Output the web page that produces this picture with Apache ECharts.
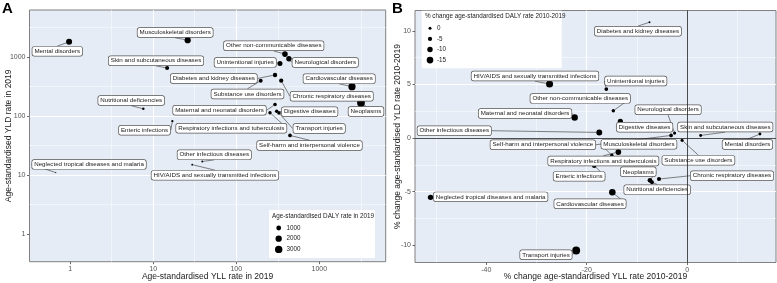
<!DOCTYPE html>
<html>
<head>
<meta charset="utf-8">
<script src="https://cdn.jsdelivr.net/npm/echarts@6/dist/echarts.min.js"></script>
<style>
html, body { margin: 0; padding: 0; background: #fff; }
#main { width: 777px; height: 283px; }
</style>
</head>
<body>
<div id="main"></div>
<script>
// causes, same order in both panels
var causes = [
    'Mental disorders', 'Musculoskeletal disorders', 'Skin and subcutaneous diseases',
    'Diabetes and kidney diseases', 'Nutritional deficiencies', 'Maternal and neonatal disorders',
    'Enteric infections', 'Respiratory infections and tuberculosis', 'Other non-communicable diseases',
    'Unintentional injuries', 'Neurological disorders', 'Cardiovascular diseases',
    'Chronic respiratory diseases', 'Substance use disorders', 'Neoplasms',
    'Digestive diseases', 'Transport injuries', 'Self-harm and interpersonal violence',
    'Other infectious diseases', 'HIV/AIDS and sexually transmitted infections',
    'Neglected tropical diseases and malaria'
];

// panel A: rates 2019
var yllRate  = [0.97, 26, 14.7, 293, 7.6, 293, 17, 255, 386, 336, 431, 2477, 348, 197, 3180, 307, 327, 444, 39, 29.5, 0.67];
var yldRate  = [1820, 1945, 655, 499, 133, 157, 82, 114, 1128, 783, 940, 316, 399, 399, 168, 121, 113, 47, 17, 15, 11];
var dalyRate = [1821, 1971, 670, 792, 141, 450, 99, 369, 1514, 1119, 1371, 2793, 747, 596, 3348, 428, 440, 491, 56, 45, 12];

// panel B: % change 2010-2019
var yllChange  = [14.5, -15.0, 2.7, -7.5, -7.0, -22.4, -18.5, -13.7, -14.7, -16.1, -2.5, -14.9, -5.6, -1.0, -7.4, -13.3, -22.1, -3.2, -17.5, -27.4, -51.1];
var yldChange  = [0.37, -1.6, 0.24, 10.8, -4.12, 1.92, -2.58, -1.31, 2.55, 4.57, 0.46, -5.07, -3.83, -0.22, -3.95, 1.55, -10.5, 0.24, 0.52, 5.04, -5.54];
var dalyChange = [0.4, -1.5, 0.3, 4.0, -4.1, -13.9, -6.0, -11, -1.9, -3, -0.5, -14.4, -4.7, -0.5, -7.2, -9.1, -20, -3, -12, -16.5, -10];

var dalyRateKeys = [1000, 2000, 3000];
var dalyChangeKeys = [0, -5, -10, -15];
var ticksA = [0, 1, 2, 3];          // log10 of 1, 10, 100, 1000
var ticksBx = [-40, -20, 0];
var ticksBy = [-10, -5, 0, 5, 10];

// label offsets in px (repel-like placement)
var shiftA = [
    [-11.8, 9.5], [-12.5, -7.6], [-11.1, -7.3], [-61.2, 3.5], [-12.1, -8.3], [-55.5, 5.7],
    [-27.8, 9], [-38.7, 15.5], [-11.2, -8.3], [-34.7, -1], [36.3, 3.7], [-12.8, -8],
    [50.5, 15.5], [-13.2, 13.3], [5, 8.7], [33, 0.5], [40.2, 15.5], [19.5, 10],
    [12, -6.8], [22.7, 10.7], [33.3, -8.2]
];
var shiftB = [
    [-12.5, 10.4], [27.1, -10.8], [24.6, -8.5], [-11.5, 9], [5.2, 7.5], [-49.6, -4],
    [-15.1, 10.7], [-15, 8.9], [-33.1, -12.3], [29.5, -8.1], [-6.5, -23.3], [-22.3, 11.5],
    [73, -3.3], [16.3, 20], [-11.7, -8.5], [24.3, 5.8], [-30.2, 4.3], [-128.2, 9.3],
    [-145, -1.7], [-14.6, -8], [60.1, -0.5]
];

function sizeA(v) { return 1.2 + 6.6 * Math.sqrt(Math.max(v - 12, 0) / 3336); }
function sizeB(v) { return Math.max(1.6, 3 + 0.245 * -v); }

var FONT = 'Liberation Sans, Arial, sans-serif';
var panelBg = '#E6ECF5';

var labelStyle = {
    show: true,
    position: 'inside',
    color: '#1a1a1a',
    fontSize: 6.2,
    lineHeight: 7,
    backgroundColor: '#fff',
    borderColor: '#555',
    borderWidth: 0.7,
    borderRadius: 2,
    padding: [1.5, 2, 0.5, 2],
    formatter: function (p) { return p.data[3]; }
};
var leader = { show: true, lineStyle: { color: '#333', width: 0.6 } };

function axisBase(extra) {
    var a = {
        type: 'value',
        axisLine: { show: false, onZero: false },
        axisTick: { show: true, length: 2.5, lineStyle: { color: '#444', width: 0.8 } },
        axisLabel: { color: '#555', fontSize: 7, margin: 4 },
        splitLine: { show: true, showMinLine: false, showMaxLine: false, lineStyle: { color: '#fff', width: 1 } },
        minorTick: { show: false, splitNumber: 2 },
        minorSplitLine: { show: true, lineStyle: { color: '#fff', width: 0.5 } },
        nameLocation: 'middle',
        nameMoveOverlap: false,
        nameTextStyle: { fontSize: 8.5, color: '#1a1a1a' }
    };
    for (var k in extra) {
        if (typeof extra[k] === 'object' && a[k] && !Array.isArray(extra[k])) {
            for (var j in extra[k]) a[k][j] = extra[k][j];
        } else {
            a[k] = extra[k];
        }
    }
    return a;
}

var logFmt = function (v) { return String(Math.round(Math.pow(10, v))); };

var dataA = causes.map(function (c, i) {
    return [Math.log10(yllRate[i]), Math.log10(yldRate[i]), dalyRate[i], c];
});
var dataB = causes.map(function (c, i) {
    return [yllChange[i], yldChange[i], dalyChange[i], c];
});

// legends (size keys) drawn as graphic
var graphics = [
    { type: 'text', x: 2, y: 1, style: { text: 'A', font: 'bold 15px ' + FONT, fill: '#000' } },
    { type: 'text', x: 392, y: 1, style: { text: 'B', font: 'bold 15px ' + FONT, fill: '#000' } },
    { type: 'rect', z: 50, shape: { x: 269, y: 210, width: 106, height: 48 }, style: { fill: '#fff' } },
    { type: 'text', z: 51, x: 272, y: 216.5, style: { text: 'Age-standardised DALY rate in 2019', fontSize: 6.3, fontFamily: FONT, fill: '#1a1a1a', verticalAlign: 'middle' } },
    { type: 'rect', z: 50, shape: { x: 421.7, y: 10.7, width: 140, height: 57.5 }, style: { fill: '#fff' } },
    { type: 'text', z: 51, x: 425, y: 16, style: { text: '% change age-standardised DALY rate 2010-2019', fontSize: 6.3, fontFamily: FONT, fill: '#1a1a1a', verticalAlign: 'middle' } }
];
dalyRateKeys.forEach(function (k, i) {
    var cy = 228 + i * 10.7;
    graphics.push({ type: 'circle', z: 51, shape: { cx: 278.7, cy: cy, r: sizeA(k) / 2 }, style: { fill: '#000' } });
    graphics.push({ type: 'text', z: 51, x: 286.5, y: cy, style: { text: String(k), fontSize: 6.3, fontFamily: FONT, fill: '#1a1a1a', verticalAlign: 'middle' } });
});
dalyChangeKeys.forEach(function (k, i) {
    var cy = 28.3 + i * 10.6;
    graphics.push({ type: 'circle', z: 51, shape: { cx: 430, cy: cy, r: sizeB(k) / 2 }, style: { fill: '#000' } });
    graphics.push({ type: 'text', z: 51, x: 437, y: cy, style: { text: String(k), fontSize: 6.3, fontFamily: FONT, fill: '#1a1a1a', verticalAlign: 'middle' } });
});

var option = {
    animation: false,
    textStyle: { fontFamily: FONT },
    grid: [
        { left: 29.5, top: 10, width: 356.2, height: 251.7, outerBoundsMode: 'none', show: true, backgroundColor: panelBg, borderColor: '#808080', borderWidth: 1 },
        { left: 415, top: 10.5, width: 361, height: 252, outerBoundsMode: 'none', show: true, backgroundColor: panelBg, borderColor: '#808080', borderWidth: 1 }
    ],
    xAxis: [
        axisBase({
            gridIndex: 0, min: -0.49, max: 3.8, splitNumber: 4,
            name: 'Age-standardised YLL rate in 2019', nameGap: 10,
            axisTick: { customValues: ticksA },
            axisLabel: { customValues: ticksA, formatter: logFmt }
        }),
        axisBase({
            gridIndex: 1, min: -54.2, max: 17.7, splitNumber: 4,
            name: '% change age-standardised YLL rate 2010-2019', nameGap: 10,
            axisTick: { customValues: ticksBx },
            axisLabel: { customValues: ticksBx }
        })
    ],
    yAxis: [
        axisBase({
            gridIndex: 0, min: -0.47, max: 3.8, splitNumber: 4,
            name: 'Age-standardised YLD rate in 2019', nameGap: 16,
            axisTick: { customValues: ticksA },
            axisLabel: { customValues: ticksA, formatter: logFmt }
        }),
        axisBase({
            gridIndex: 1, min: -11.62, max: 11.9, splitNumber: 5,
            name: '% change age-standardised YLD rate 2010-2019', nameGap: 13,
            axisTick: { customValues: ticksBy },
            axisLabel: { customValues: ticksBy }
        })
    ],
    graphic: graphics,
    series: [
        {
            name: 'A',
            type: 'scatter',
            xAxisIndex: 0,
            yAxisIndex: 0,
            data: dataA,
            symbolSize: function (v) { return sizeA(v[2]); },
            itemStyle: { color: '#000', opacity: 1 },
            label: labelStyle,
            labelLine: leader,
            labelLayout: function (p) {
                var s = shiftA[p.dataIndex];
                return { dx: s[0], dy: s[1] };
            }
        },
        {
            name: 'B',
            type: 'scatter',
            xAxisIndex: 1,
            yAxisIndex: 1,
            data: dataB,
            symbolSize: function (v) { return sizeB(v[2]); },
            itemStyle: { color: '#000', opacity: 1 },
            label: labelStyle,
            labelLine: leader,
            labelLayout: function (p) {
                var s = shiftB[p.dataIndex];
                return { dx: s[0], dy: s[1] };
            },
            markLine: {
                silent: true,
                symbol: 'none',
                label: { show: false },
                lineStyle: { color: '#222', width: 0.8, type: 'solid' },
                data: [{ xAxis: 0 }, { yAxis: 0 }]
            }
        }
    ]
};

var myChart = echarts.init(document.getElementById('main'));
myChart.setOption(option);
</script>
</body>
</html>
